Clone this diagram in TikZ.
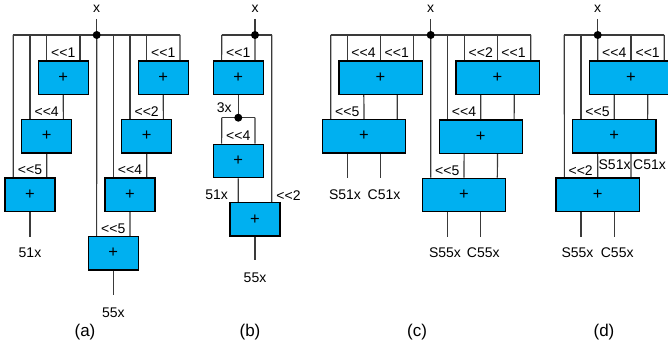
\documentclass[tikz,border=0pt]{standalone}
\usepackage{fontspec}
\setmainfont{Liberation Sans}
\usetikzlibrary{backgrounds}
\definecolor{boxblue}{HTML}{00B0F0}
\definecolor{wirec}{HTML}{3A3A3A}
\def\hs{16.67pt}
\def\ws{33.33pt}
\newcommand\shl{<\kern0pt<\kern0pt}
\newcommand\lblfont{\fontsize{14}{16}\selectfont}
\newcommand\plusfont{\fontsize{16.5}{18}\selectfont}
\newcommand\capfont{\fontsize{17}{19}\selectfont}
\tikzset{
  wire/.style={draw=wirec, line width=1.2pt},
  adder/.style={draw=black, fill=boxblue, line width=1.3pt, minimum width=50pt, minimum height=33.3pt, inner sep=0pt, font=\plusfont},
  wideadder/.style={adder, minimum width=83.3pt},
  lab/.style={inner sep=0pt, font=\lblfont},
  captxt/.style={inner sep=0pt, font=\capfont},
  dotc/.style={circle, fill=black, inner sep=0pt, minimum size=8pt}
}
\begin{document}
\begin{tikzpicture}[x=1pt,y=-1pt]
\clip (0,0) rectangle (668,350);

% ---------------- (a) ----------------
\node[lab] (xa) at (96.7,8.5) {x};
\coordinate (ta) at (96.7,19);
\node[dotc] (da) at (96.7,35) {};
\coordinate (aL) at (13.3,35);
\coordinate (aR) at (180,35);
\node[adder] (a1) at (63.3,77.7) {+};
\node[adder] (a2) at (46.7,136.2) {+};
\node[adder] (a3) at (30,194.7) {+};
\node[adder] (a4) at (163.3,77.7) {+};
\node[adder] (a5) at (146.7,136.2) {+};
\node[adder] (a6) at (130,194.7) {+};
\node[adder] (a7) at (113.3,253.2) {+};
\coordinate (oa1) at (30,237);
\coordinate (oa2) at (113.3,295);
\node[lab] at (63.3,53) {\shl1};
\node[lab] at (46.7,112) {\shl4};
\node[lab] at (30,170) {\shl5};
\node[lab] at (163.3,53) {\shl1};
\node[lab] at (146.7,112) {\shl2};
\node[lab] at (130,170) {\shl4};
\node[lab] at (113.3,228.5) {\shl5};
\node[lab] (l51a) at (30,253) {51x};
\node[lab] (l55a) at (113.3,312.5) {55x};
\node[captxt] (capa) at (85,332) {(a)};
\begin{scope}[on background layer]
\draw[wire] (ta) -- (da.center);
\draw[wire] (aL) -- (aR);
\draw[wire] (aL) -- ([xshift=-\hs]a3.north);
\draw[wire] ([xshift=-\hs]a2.north |- aL) -- ([xshift=-\hs]a2.north);
\draw[wire] ([xshift=-\hs]a1.north |- aL) -- ([xshift=-\hs]a1.north);
\draw[wire] ([xshift=\hs]a1.north |- aL) -- ([xshift=\hs]a1.north);
\draw[wire] (a1.south) -- ([xshift=\hs]a2.north);
\draw[wire] (a2.south) -- ([xshift=\hs]a3.north);
\draw[wire] (a3.south) -- (oa1);
\draw[wire] (da.center) -- ([xshift=-\hs]a7.north);
\draw[wire] ([xshift=-\hs]a6.north |- aL) -- ([xshift=-\hs]a6.north);
\draw[wire] ([xshift=-\hs]a5.north |- aL) -- ([xshift=-\hs]a5.north);
\draw[wire] ([xshift=-\hs]a4.north |- aL) -- ([xshift=-\hs]a4.north);
\draw[wire] (aR) -- ([xshift=\hs]a4.north);
\draw[wire] (a4.south) -- ([xshift=\hs]a5.north);
\draw[wire] (a5.south) -- ([xshift=\hs]a6.north);
\draw[wire] (a6.south) -- ([xshift=\hs]a7.north);
\draw[wire] (a7.south) -- (oa2);
\end{scope}

% ---------------- (b) ----------------
\node[lab] (xb) at (255,8.5) {x};
\coordinate (tb) at (255,19);
\node[dotc] (db) at (255,35) {};
\coordinate (bL) at (221.7,35);
\coordinate (bR) at (271.7,35);
\node[adder] (b1) at (238.3,77.7) {+};
\node[dotc] (db2) at (238.3,117.7) {};
\coordinate (b2L) at (221.7,117.7);
\coordinate (b2R) at (255,117.7);
\node[adder] (b2) at (238.3,161) {+};
\node[adder] (b3) at (255,219.3) {+};
\coordinate (ob) at (255,260);
\node[lab] at (238.3,53) {\shl1};
\node[lab] at (224.3,107.5) {3x};
\node[lab] at (238.3,136) {\shl4};
\node[lab] at (216.7,195) {51x};
\node[lab] at (288.5,196) {\shl2};
\node[lab] (l55b) at (255,278) {55x};
\node[captxt] (capb) at (250,332) {(b)};
\begin{scope}[on background layer]
\draw[wire] (tb) -- (db.center);
\draw[wire] (bL) -- (bR);
\draw[wire] (bL) -- ([xshift=-\hs]b1.north);
\draw[wire] (db.center) -- ([xshift=\hs]b1.north);
\draw[wire] (bR) -- ([xshift=\hs]b3.north);
\draw[wire] (b1.south) -- (db2.center);
\draw[wire] (b2L) -- (b2R);
\draw[wire] (b2L) -- ([xshift=-\hs]b2.north);
\draw[wire] (b2R) -- ([xshift=\hs]b2.north);
\draw[wire] (b2.south) -- ([xshift=-\hs]b3.north);
\draw[wire] (b3.south) -- (ob);
\end{scope}

% ---------------- (c) ----------------
\node[lab] (xc) at (430.7,8.5) {x};
\coordinate (tc) at (430.7,19);
\node[dotc] (dc) at (430.7,35) {};
\coordinate (cL) at (330.7,35);
\coordinate (cR) at (530.7,35);
\node[wideadder] (c1) at (380.5,77.7) {+};
\node[wideadder] (c2) at (364,136.2) {+};
\node[wideadder] (c3) at (497.5,77.7) {+};
\node[wideadder] (c4) at (480.8,136.5) {+};
\node[wideadder] (c5) at (464,195) {+};
\coordinate (oc1) at ([xshift=-\hs]c2.south |- 0,178);
\coordinate (oc2) at ([xshift=\hs]c2.south |- 0,178);
\coordinate (oc3) at ([xshift=-\hs]c5.south |- 0,236.7);
\coordinate (oc4) at ([xshift=\hs]c5.south |- 0,236.7);
\node[lab] at (363.5,53) {\shl4};
\node[lab] at (396.8,53) {\shl1};
\node[lab] at (347.3,112) {\shl5};
\node[lab] at (345,195) {S51x};
\node[lab] at (384,195) {C51x};
\node[lab] at (480.8,53) {\shl2};
\node[lab] at (513.5,53) {\shl1};
\node[lab] at (464,112) {\shl4};
\node[lab] at (447.3,170.5) {\shl5};
\node[lab] at (445,253) {S55x};
\node[lab] at (483.3,253) {C55x};
\node[captxt] (capc) at (417,332) {(c)};
\begin{scope}[on background layer]
\draw[wire] (tc) -- (dc.center);
\draw[wire] (cL) -- (cR);
\draw[wire] (cL) -- ([xshift=-\ws]c2.north);
\draw[wire] ([xshift=-\ws]c1.north |- cL) -- ([xshift=-\ws]c1.north);
\draw[wire] (c1.north |- cL) -- (c1.north);
\draw[wire] ([xshift=\ws]c1.north |- cL) -- ([xshift=\ws]c1.north);
\draw[wire] ([xshift=-\hs]c1.south) -- (c2.north);
\draw[wire] ([xshift=\hs]c1.south) -- ([xshift=\ws]c2.north);
\draw[wire] ([xshift=-\hs]c2.south) -- (oc1);
\draw[wire] ([xshift=\hs]c2.south) -- (oc2);
\draw[wire] (dc.center) -- ([xshift=-\ws]c5.north);
\draw[wire] ([xshift=-\ws]c4.north |- cL) -- ([xshift=-\ws]c4.north);
\draw[wire] ([xshift=-\ws]c3.north |- cL) -- ([xshift=-\ws]c3.north);
\draw[wire] (c3.north |- cL) -- (c3.north);
\draw[wire] (cR) -- ([xshift=\ws]c3.north);
\draw[wire] ([xshift=-\hs]c3.south) -- (c4.north);
\draw[wire] ([xshift=\hs]c3.south) -- ([xshift=\ws]c4.north);
\draw[wire] ([xshift=-\hs]c4.south) -- (c5.north);
\draw[wire] ([xshift=\hs]c4.south) -- ([xshift=\ws]c5.north);
\draw[wire] ([xshift=-\hs]c5.south) -- (oc3);
\draw[wire] ([xshift=\hs]c5.south) -- (oc4);
\end{scope}

% ---------------- (d) ----------------
\node[lab] (xd) at (597.7,8.5) {x};
\coordinate (td) at (597.7,19);
\node[dotc] (dd) at (597.7,35) {};
\coordinate (dL) at (564.3,35);
\coordinate (dR) at (664.3,35);
\node[wideadder] (d1) at (631,77.7) {+};
\node[wideadder] (d2) at (614.3,136.2) {+};
\node[wideadder] (d3) at (597.7,194.7) {+};
\coordinate (od1) at ([xshift=-\hs]d3.south |- 0,236.5);
\coordinate (od2) at ([xshift=\hs]d3.south |- 0,236.5);
\node[lab] at (614.3,53) {\shl4};
\node[lab] at (647.7,53) {\shl1};
\node[lab] at (597.5,112) {\shl5};
\node[lab] at (614.6,165) {S51x};
\node[lab] at (649.5,165) {C51x};
\node[lab] at (580.7,170.5) {\shl2};
\node[lab] at (577.5,253) {S55x};
\node[lab] at (617.2,253) {C55x};
\node[captxt] (capd) at (604,332) {(d)};
\begin{scope}[on background layer]
\draw[wire] (td) -- (dd.center);
\draw[wire] (dL) -- (dR);
\draw[wire] (dL) -- ([xshift=-\ws]d3.north);
\draw[wire] ([xshift=-\ws]d2.north |- dL) -- ([xshift=-\ws]d2.north);
\draw[wire] (dd.center) -- ([xshift=-\ws]d1.north);
\draw[wire] (d1.north |- dL) -- (d1.north);
\draw[wire] (dR) -- ([xshift=\ws]d1.north);
\draw[wire] ([xshift=-\hs]d1.south) -- (d2.north);
\draw[wire] ([xshift=\hs]d1.south) -- ([xshift=\ws]d2.north);
\draw[wire] ([xshift=-\hs]d2.south) -- (d3.north);
\draw[wire] ([xshift=\hs]d2.south) -- ([xshift=\ws]d3.north);
\draw[wire] ([xshift=-\hs]d3.south) -- (od1);
\draw[wire] ([xshift=\hs]d3.south) -- (od2);
\end{scope}
\end{tikzpicture}
\end{document}
